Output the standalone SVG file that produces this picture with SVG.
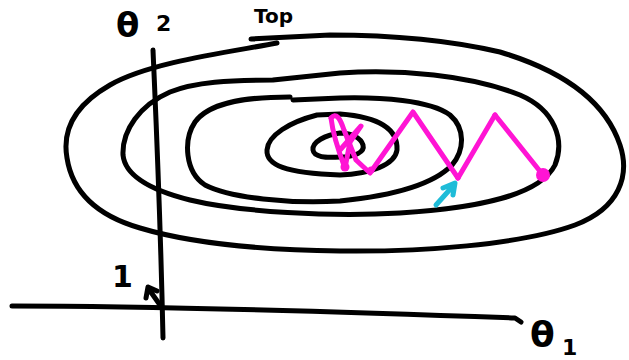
<svg xmlns="http://www.w3.org/2000/svg" width="629" height="360" viewBox="0 0 629 360">
<style>
.ink{fill:none;stroke:#000;stroke-width:5;stroke-linecap:round;stroke-linejoin:round}
.pk{fill:none;stroke:#ff14d4;stroke-width:5;stroke-linecap:round;stroke-linejoin:round}
.cy{fill:none;stroke:#1fbcd8;stroke-width:5;stroke-linecap:round;stroke-linejoin:round}
.lbl{font-family:"DejaVu Sans","Liberation Sans",sans-serif;fill:#000;font-weight:bold}
</style>
<rect width="629" height="360" fill="#fff"/>
<g id="contours">
<path class="ink" d="M 277,43 C 230,52 150,62 110,85 C 75,105 62,130 67,158 C 72,190 95,215 140,228 C 190,243 260,250 340,251 C 420,252 520,245 575,225 C 620,208 630,175 620,145 C 605,100 560,70 500,52 C 440,38 380,35 330,35 L 251,39"/>
<path class="ink" d="M 273,80 L 340,73 C 400,69 470,75 520,95 C 555,110 565,140 555,165 C 540,195 480,208 400,213 C 330,217 240,212 190,200 C 150,190 125,175 123,155 C 122,130 140,105 170,92 C 195,82 230,80 273,80"/>
<path class="ink" d="M 293,100 L 340,98 C 380,97 430,100 450,115 C 465,128 465,150 452,165 C 430,188 380,197 340,201 C 290,204 230,198 205,185 C 185,172 183,140 195,122 C 208,104 240,97 290,97"/>
<path class="ink" d="M 317,115 C 290,122 268,135 267,150 C 266,165 285,173 340,175 C 370,174 395,165 397,150 C 398,130 380,117 340,114 Z"/>
<path class="ink" d="M 340,133 C 325,135 312,142 313,150 C 314,157 325,158 340,157 C 355,157 365,152 363,145 C 361,138 352,133 340,133 Z"/>
</g>
<g id="axes">
<path class="ink" d="M 153,50 C 156,120 160,200 163,338"/>
<path class="ink" d="M 12,306 C 150,306 350,312 515,318 L 521,322"/>
<path class="ink" stroke-width="4" d="M 160,305 L 148,288 M 146,298 L 148,287 L 157,291"/>
</g>
<g id="path">
<path class="pk" d="M 331,118 C 333,135 340,155 345,168 L 350,142 L 361,126 L 340,150"/>
<path class="pk" d="M 331,118 C 336,112 340,118 344,130 L 356,160 L 370,173 L 413,112 L 458,178"/>
<path class="pk" stroke-width="8" d="M 458,178 L 495,115"/>
<path class="pk" d="M 495,115 L 543,175"/>
<circle cx="345" cy="167" r="4.5" fill="#ff14d4"/>
<circle cx="371" cy="170" r="3.5" fill="#ff14d4"/>
<circle cx="543" cy="175" r="7" fill="#ff14d4"/>
<path class="cy" d="M 436,205 L 453,186 M 443,188 L 455,183 L 453,195"/>
</g>
<g id="labels">
<text class="lbl" x="254" y="23" font-size="20">Top</text>
<text class="lbl" x="116" y="37" font-size="34">θ</text>
<text class="lbl" x="156" y="31" font-size="22">2</text>
<text class="lbl" x="530" y="347" font-size="36">θ</text>
<text class="lbl" x="562" y="355" font-size="22">1</text>
<text class="lbl" x="112" y="287" font-size="30">1</text>
</g>
</svg>
